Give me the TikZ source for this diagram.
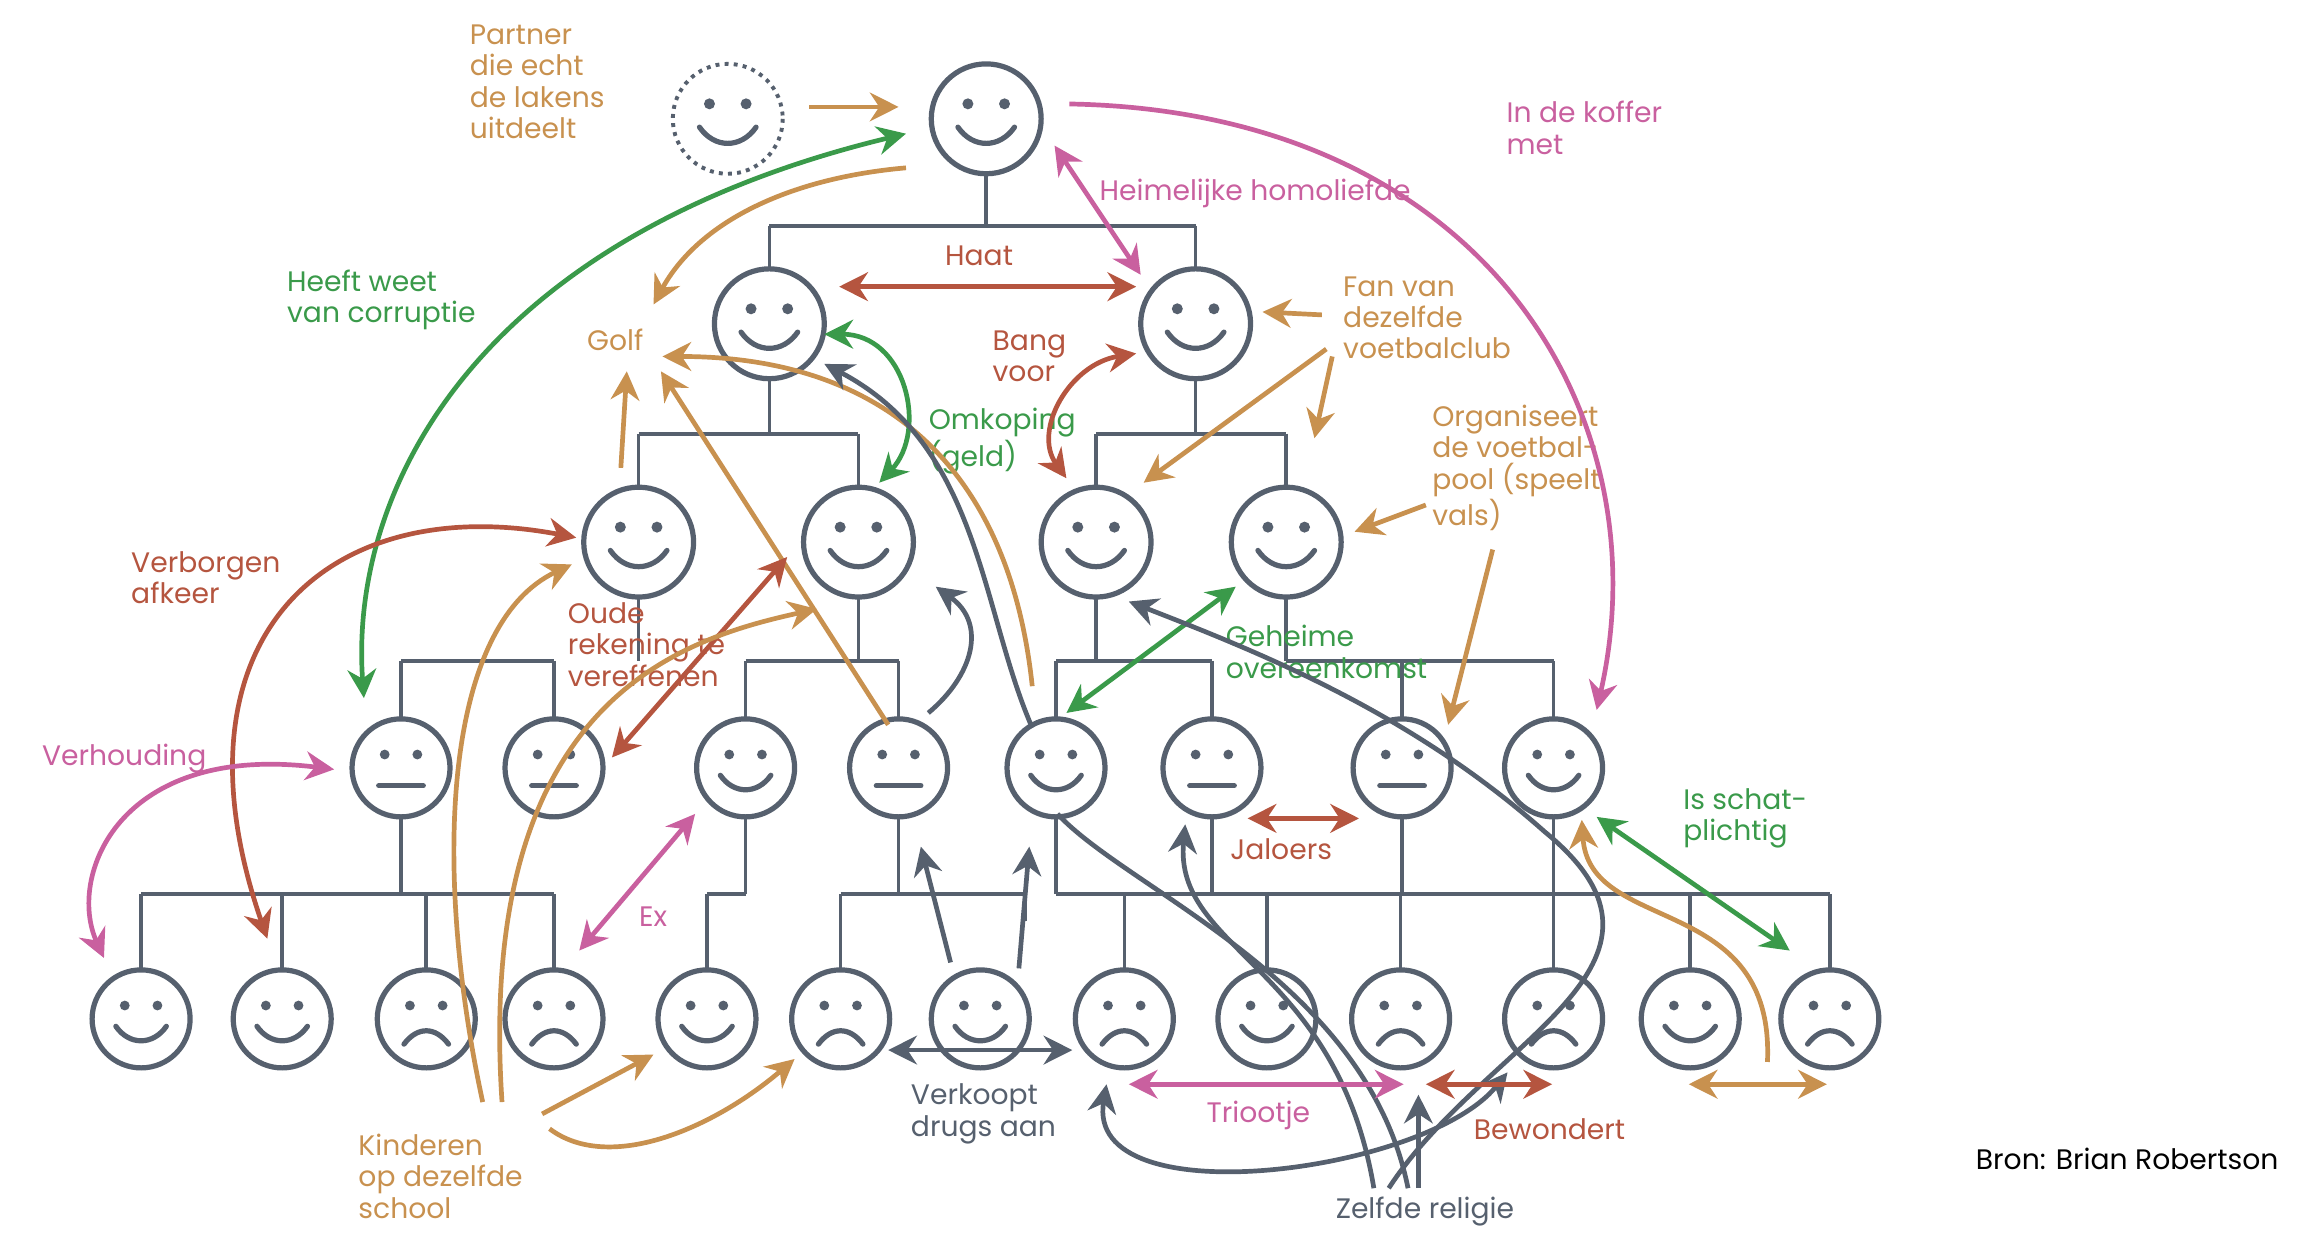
\documentclass[tikz,border=0pt]{standalone}
\usepackage{fontspec}
\setmainfont{Poppins}
\usetikzlibrary{arrows.meta}
\definecolor{gr}{HTML}{56606E}
\definecolor{og}{HTML}{C8914F}
\definecolor{rd}{HTML}{B5553F}
\definecolor{gn}{HTML}{3A9A4A}
\definecolor{pk}{HTML}{C9609F}
\begin{document}
\begin{tikzpicture}[x=0.02cm,y=-0.02cm,
  tree/.style={gr,line width=1.4pt},
  fc/.style={draw=gr,line width=2pt,circle,inner sep=0pt},
  ar/.style={line width=1.8pt,-{Stealth[length=11pt,width=11pt]}},
  dar/.style={line width=1.8pt,{Stealth[length=11pt,width=11pt]}-{Stealth[length=11pt,width=11pt]}},
  lb/.style={font=\fontsize{10.8}{12}\selectfont,align=left,anchor=west,inner sep=0pt}]
\useasboundingbox (0,0) rectangle (1560,835);
\newcommand\Face[5]{% name x y r type
 \node[fc,minimum size=#4*0.04cm] (#1) at (#2,#3) {};
 \begin{scope}[shift={(#2,#3)},scale=#4/33]
  \fill[gr] (-11,-9) circle (3.3); \fill[gr] (11,-9) circle (3.3);
  \ifcase#5
   \draw[gr,line width=2pt,line cap=round] (-17,5) .. controls (-8,18) and (8,18) .. (17,5);
  \or
   \draw[gr,line width=2pt,line cap=round] (-15,12) -- (15,12);
  \or
   \draw[gr,line width=2pt,line cap=round] (-15,17) .. controls (-6,5) and (6,5) .. (15,17);
  \fi
 \end{scope}}
% tree lines
\draw[tree] (664,117)--(664,152) (518,152)--(805,152) (518,152)--(518,181) (805,152)--(805,181);
\draw[tree] (518,255)--(518,292) (430,292)--(578,292) (430,292)--(430,328) (578,292)--(578,328);
\draw[tree] (805,255)--(805,292) (738,292)--(866,292) (738,292)--(738,328) (866,292)--(866,328);
\draw[tree] (430,402)--(430,445) (270,445)--(373,445) (270,445)--(270,484) (373,445)--(373,484);
\draw[tree] (578,402)--(578,445) (502,445)--(605,445) (502,445)--(502,484) (605,445)--(605,484);
\draw[tree] (738,402)--(738,445) (711,445)--(816,445) (711,445)--(711,484) (816,445)--(816,484);
\draw[tree] (866,402)--(866,445) (866,445)--(1046,445) (944,445)--(944,484) (1046,445)--(1046,484);
\draw[tree] (270,550)--(270,602) (95,602)--(373,602);
\foreach \x in {95,190,287,373} \draw[tree] (\x,602)--(\x,653);
\draw[tree] (502,550)--(502,602) (476,602)--(502,602) (476,602)--(476,653);
\draw[tree] (605,550)--(605,602) (566,602)--(690,602) (566,602)--(566,653) (690,602)--(690,620);
\foreach \x in {711,816,944,1046} \draw[tree] (\x,550)--(\x,602);
\draw[tree] (711,602)--(1232,602);
\foreach \x in {757,853,943,1046,1138,1232} \draw[tree] (\x,602)--(\x,653);
% faces
\Face{t}{664}{80}{37}{0}
\draw[gr,line width=1.5pt,dotted] (490,80) circle (37);
\begin{scope}[shift={(490,80)},scale=37/33]
 \fill[gr] (-11,-9) circle (3.3); \fill[gr] (11,-9) circle (3.3);
 \draw[gr,line width=2pt,line cap=round] (-17,5) .. controls (-8,18) and (8,18) .. (17,5);
\end{scope}
\Face{a}{518}{218}{37}{0}\Face{b}{805}{218}{37}{0}
\Face{c1}{430}{365}{37}{0}\Face{c2}{578}{365}{37}{0}\Face{c3}{738}{365}{37}{0}\Face{c4}{866}{365}{37}{0}
\Face{d1}{270}{517}{33}{1}\Face{d2}{373}{517}{33}{1}\Face{d3}{502}{517}{33}{0}\Face{d4}{605}{517}{33}{1}
\Face{d5}{711}{517}{33}{0}\Face{d6}{816}{517}{33}{1}\Face{d7}{944}{517}{33}{1}\Face{d8}{1046}{517}{33}{0}
\Face{e1}{95}{686}{33}{0}\Face{e2}{190}{686}{33}{0}\Face{e3}{287}{686}{33}{2}\Face{e4}{373}{686}{33}{2}
\Face{e5}{476}{686}{33}{0}\Face{e6}{566}{686}{33}{2}\Face{e7}{660}{686}{33}{0}\Face{e8}{757}{686}{33}{2}
\Face{e9}{853}{686}{33}{0}\Face{e10}{943}{686}{33}{2}\Face{e11}{1046}{686}{33}{2}\Face{e12}{1138}{686}{33}{0}
\Face{e13}{1232}{686}{33}{2}
% labels
\node[lb,og] at (316,55) {Partner\\die echt\\de lakens\\uitdeelt};
\node[lb,pk] at (1014,86) {In de koffer\\met};
\node[lb,pk] at (740,130) {Heimelijke homoliefde};
\node[lb,rd] at (636,172) {Haat};
\node[lb,gn] at (193,202) {Heeft weet\\van corruptie};
\node[lb,og] at (395,229) {Golf};
\node[lb,rd] at (668,240) {Bang\\voor};
\node[lb,og] at (904,214) {Fan van\\dezelfde\\voetbalclub};
\node[lb,gn] at (625,297) {Omkoping\\(geld)};
\node[lb,og] at (964,315) {Organiseert\\de voetbal-\\pool (speelt\\vals)};
\node[lb,rd] at (88,389) {Verborgen\\afkeer};
\node[lb,rd] at (382,434) {Oude\\rekening te\\vereffenen};
\node[lb,gn] at (825,439) {Geheime\\overeenkomst};
\node[lb,pk] at (28,511) {Verhouding};
\node[lb,gn] at (1133,551) {Is schat-\\plichtig};
\node[lb,rd] at (828,572) {Jaloers};
\node[lb,pk] at (430,617) {Ex};
\node[lb,gr] at (613,750) {Verkoopt\\drugs aan};
\node[lb,pk] at (812,751) {Triootje};
\node[lb,rd] at (992,760) {Bewondert};
\node[lb,og] at (241,792) {Kinderen\\op dezelfde\\school};
\node[lb,gr] at (899,816) {Zelfde religie};
\node[lb,black] at (1330,780) {Bron: Brian Robertson};
% arrows
\draw[ar,og] (545,72)--(605,72);
\draw[ar,pk] (720,70) .. controls (1000,75) and (1120,280) .. (1075,478);
\draw[dar,pk] (710,98)--(768,185);
\draw[dar,rd] (565,193)--(765,193);
\draw[dar,gn] (610,90) .. controls (320,160) and (235,330) .. (245,470);
\draw[ar,og] (610,113) .. controls (530,120) and (470,150) .. (440,205);
\draw[ar,og] (418,315)--(422,250);
\draw[ar,og] (598,488)--(445,250);
\draw[ar,og] (695,462) .. controls (680,320) and (600,240) .. (446,240);
\draw[dar,gn] (555,225) .. controls (610,225) and (625,290) .. (592,325);
\draw[ar,gr] (695,490) .. controls (660,410) and (660,300) .. (555,245);
\draw[dar,rd] (765,238) .. controls (720,245) and (695,290) .. (718,322);
\draw[ar,og] (890,212)--(850,210);
\draw[ar,og] (893,235)--(770,325);
\draw[ar,og] (897,240)--(885,295);
\draw[ar,og] (960,340)--(912,358);
\draw[ar,og] (1005,370)--(975,488);
\draw[dar,gn] (832,395)--(718,480);
\draw[ar,gr] (625,480) .. controls (655,455) and (665,420) .. (630,395);
\draw[dar,rd] (388,362) .. controls (220,330) and (110,430) .. (180,632);
\draw[dar,rd] (530,375)--(412,510);
\draw[ar,og] (325,742) .. controls (290,580) and (300,420) .. (385,380);
\draw[ar,og] (338,742) .. controls (320,470) and (460,430) .. (550,410);
\draw[ar,og] (365,750)--(440,710);
\draw[ar,og] (370,760) .. controls (410,790) and (480,760) .. (535,713);
\draw[dar,pk] (225,518) .. controls (80,500) and (45,590) .. (70,645);
\draw[dar,pk] (468,548)--(390,640);
\draw[dar,gr] (598,707)--(722,707);
\draw[ar,gr] (640,648)--(620,570);
\draw[ar,gr] (686,652)--(693,570);
\draw[line width=1.8pt,gr] (712,548) .. controls (760,600) and (920,660) .. (948,800);
\draw[dar,gr] (745,730) .. controls (730,820) and (960,790) .. (1015,722);
\draw[ar,gr] (955,800)--(955,737);
\draw[ar,gr] (935,800) .. controls (1000,700) and (1150,650) .. (1040,560) .. controls (950,480) and (850,440) .. (760,405);
\draw[ar,gr] (925,800) .. controls (900,650) and (790,640) .. (798,555);
\draw[dar,rd] (840,551)--(915,551);
\draw[dar,pk] (760,730)--(945,730);
\draw[dar,rd] (960,730)--(1045,730);
\draw[dar,gn] (1075,550)--(1205,640);
\draw[ar,og] (1190,715) .. controls (1195,600) and (1070,630) .. (1065,552);
\draw[dar,og] (1137,730)--(1230,730);
\end{tikzpicture}
\end{document}
